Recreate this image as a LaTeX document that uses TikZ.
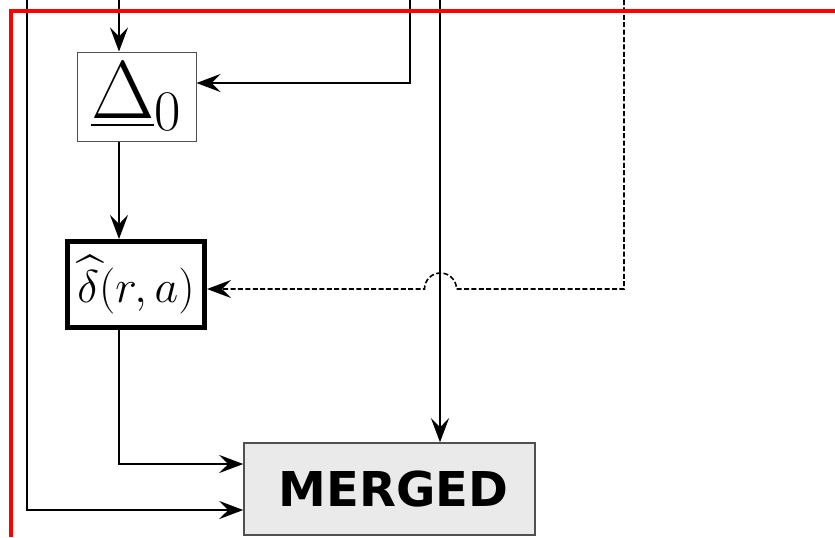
\RequirePackage{fix-cm}
\documentclass[tikz,border=0pt]{standalone}
\usepackage{amsmath}
\usepackage{fontspec}
\newfontfamily\mergefont{DejaVu Sans}
\usetikzlibrary{arrows.meta}
\definecolor{myred}{RGB}{255,0,0}
\definecolor{mygray}{RGB}{234,234,234}
\definecolor{myedge}{RGB}{80,80,80}
\tikzset{
    common/.style={draw, rectangle, inner sep=0pt},
    plainbox/.style={common, draw=myedge, line width=0.5pt, minimum width=59.5pt, minimum height=44.5pt},
    boldbox/.style={common, line width=2.5pt, minimum width=68.5pt, minimum height=43pt, font=\fontsize{23}{27}\selectfont},
    mergebox/.style={common, draw=myedge, fill=mygray, line width=0.75pt, minimum width=145.5pt, minimum height=46pt, font=\mergefont\bfseries\fontsize{24}{29}\selectfont},
    link/.style={line width=0.9pt, -{Stealth[length=12pt, width=9pt, inset=4.5pt]}},
    weaklink/.style={link, line width=0.8pt, dash pattern=on 2.5pt off 1.2pt},
    frame/.style={myred, line width=1.7pt}
}

\begin{document}
\begin{tikzpicture}[x=0.5pt, y=-0.5pt]
    \useasboundingbox (0,0) rectangle (835,537);

    % feeds coming in from above
    \coordinate (inE) at (27,0);
    \coordinate (inA) at (119,0);
    \coordinate (inB) at (410,0);
    \coordinate (inC) at (440,0);
    \coordinate (inD) at (624,0);
    \coordinate (hop) at (440.5,289);

    \node[plainbox] (Delta0) at (136.5,96.5) {\fontsize{41}{48}\selectfont$\underline{\Delta}_0$};
    \node[boldbox] (deltaHat) at (136,284.5) {$\widehat{\delta}(r,a)$};
    \node[mergebox] (Merged) at (389.5,489) {\hspace{4pt}MERGED};

    \draw[link] (inA) -- (inA |- Delta0.north);
    \draw[link] (inB) |- ([yshift=6.75pt]Delta0.east);
    \draw[link] (inA |- Delta0.south) -- (inA |- deltaHat.north);
    \draw[link] (inA |- deltaHat.south) |- ([yshift=12.5pt]Merged.west);
    \draw[link] (inE) |- ([yshift=-10.5pt]Merged.west);
    \draw[link] (inC) -- (inC |- Merged.north);
    % dashed feed hops over the vertical one
    \draw[weaklink] (inD) |- ([xshift=8pt]hop) arc (0:180:8pt) -- (hop -| deltaHat.east);

    % red frame on top
    \draw[frame] (835,11) -| (11,537);
\end{tikzpicture}
\end{document}
